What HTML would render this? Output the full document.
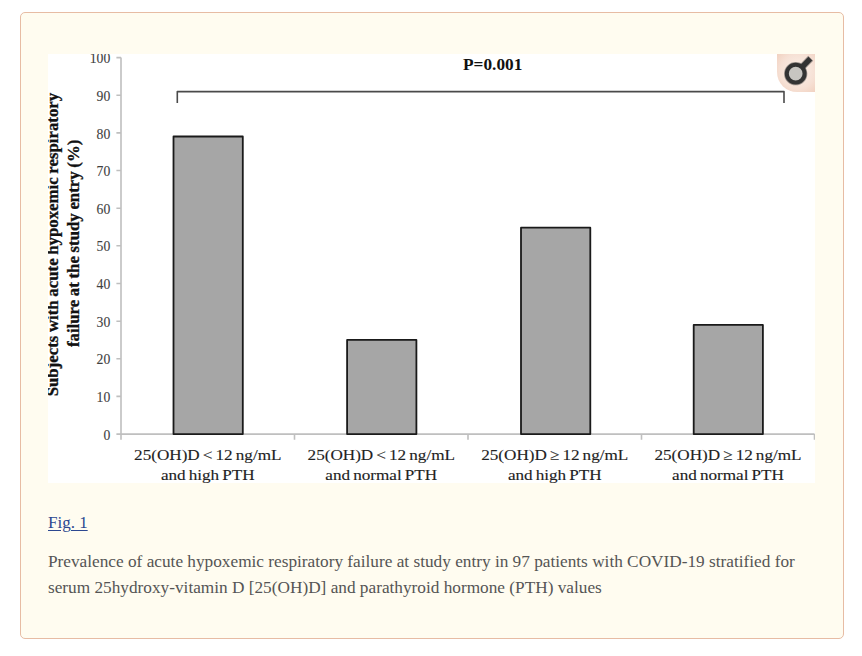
<!DOCTYPE html>
<html><head><meta charset="utf-8"><title>Fig. 1</title>
<style>
html,body{margin:0;padding:0;background:#fff;}
body{width:862px;height:656px;position:relative;overflow:hidden;font-family:"Liberation Serif",serif;}
.box{position:absolute;left:20px;top:12px;width:822px;height:625px;border:1px solid #e7bca4;border-radius:5px;background:#fffcf0;}
.chart{position:absolute;left:48px;top:54px;width:767px;height:429px;background:#fff;}
.zoom{position:absolute;left:777px;top:54px;width:38px;height:38px;border-bottom-left-radius:20px;
background:radial-gradient(circle at 55% 45%, #fbf1ea 0%, #f6e0d4 60%, #f0cdbb 100%);}
.fig{position:absolute;left:48px;top:513.2px;font-size:17px;line-height:20px;color:#2c4790;text-decoration:underline;text-underline-offset:2px;}
.cap{position:absolute;left:48px;top:549px;width:780px;font-size:17.25px;line-height:26px;color:#555;margin:0;}
</style></head><body>
<div class="box"></div>
<svg class="chart" width="767" height="429" viewBox="48 54 767 429">
<rect x="48" y="54" width="767" height="429" fill="#fff"/>
<g font-family="Liberation Serif, serif" font-size="13.7" fill="#404040" stroke="#404040" stroke-width="0.1" text-anchor="end">
<text x="110.3" y="63.2">100</text>
<text x="110.3" y="100.8">90</text>
<text x="110.3" y="138.5">80</text>
<text x="110.3" y="176.1">70</text>
<text x="110.3" y="213.8">60</text>
<text x="110.3" y="251.4">50</text>
<text x="110.3" y="289.1">40</text>
<text x="110.3" y="326.8">30</text>
<text x="110.3" y="364.4">20</text>
<text x="110.3" y="402.1">10</text>
<text x="110.3" y="439.7">0</text>
</g>
<g stroke="#bfbfbf" stroke-width="1.6" fill="none">
<path d="M121.0 57.6V434.1H814.5"/>
<path d="M116.4 57.6H121.0M116.4 95.2H121.0M116.4 132.9H121.0M116.4 170.5H121.0M116.4 208.2H121.0M116.4 245.8H121.0M116.4 283.5H121.0M116.4 321.2H121.0M116.4 358.8H121.0M116.4 396.4H121.0M116.4 434.1H121.0"/>
<path d="M121.0 434.1V439.7M294.5 434.1V439.7M468.0 434.1V439.7M641.5 434.1V439.7M814.5 434.1V439.7"/>
</g>
<g fill="#a6a6a6" stroke="#1a1a1a" stroke-width="1.8" stroke-linejoin="round">
<rect x="173.5" y="136.5" width="69.30" height="297.60"/>
<rect x="347.1" y="339.9" width="69.30" height="94.20"/>
<rect x="521.0" y="227.7" width="69.30" height="206.40"/>
<rect x="693.7" y="324.9" width="69.20" height="109.20"/>
</g>
<path d="M177.3 103V91.6H784V103" stroke="#4a4a4a" stroke-width="1.6" fill="none" stroke-linejoin="round"/>
<text x="492.7" y="69.8" font-family="Liberation Serif, serif" font-weight="bold" font-size="17.3" fill="#111" text-anchor="middle">P=0.001</text>
<g font-family="Liberation Serif, serif" font-weight="bold" font-size="16.0" fill="#111" stroke="#111" stroke-width="0.3" text-anchor="middle">
<text transform="translate(58.4 244.6) rotate(-90) scale(1.05 1)" word-spacing="-0.5">Subjects with acute hypoxemic respiratory</text>
<text transform="translate(79.0 243.4) rotate(-90) scale(1.05 1)" word-spacing="-0.5">failure at the study entry (%)</text>
</g>
<g font-family="Liberation Serif, serif" font-size="15.6" fill="#222" stroke="#222" stroke-width="0.12" text-anchor="middle">
<text transform="translate(207.75 459.9) scale(1.1 1)" word-spacing="-1.1">25(OH)D &lt; 12 ng/mL</text>
<text transform="translate(207.75 479.9) scale(1.1 1)" word-spacing="-1.1">and high PTH</text>
<text transform="translate(381.25 459.9) scale(1.1 1)" word-spacing="-1.1">25(OH)D &lt; 12 ng/mL</text>
<text transform="translate(381.25 479.9) scale(1.1 1)" word-spacing="-1.1">and normal PTH</text>
<text transform="translate(554.75 459.9) scale(1.1 1)" word-spacing="-1.1">25(OH)D ≥ 12 ng/mL</text>
<text transform="translate(554.75 479.9) scale(1.1 1)" word-spacing="-1.1">and high PTH</text>
<text transform="translate(728.00 459.9) scale(1.1 1)" word-spacing="-1.1">25(OH)D ≥ 12 ng/mL</text>
<text transform="translate(728.00 479.9) scale(1.1 1)" word-spacing="-1.1">and normal PTH</text>
</g>
</svg>
<div class="zoom"><svg width="38" height="38" viewBox="0 0 38 38">
<g stroke="#333" fill="none" stroke-opacity="0.45">
<circle cx="18.7" cy="19.7" r="8.85" stroke-width="5.6"/>
<path d="M24.6 13.6L33.7 4.2" stroke-width="7"/>
</g>
<circle cx="18.7" cy="19.7" r="8.85" fill="#c7c5c1" stroke="#333" stroke-width="4"/>
<path d="M24.6 13.6L33.3 4.6" stroke="#333" stroke-width="5.2"/>
</svg></div>
<a class="fig">Fig. 1</a>
<p class="cap">Prevalence of acute hypoxemic respiratory failure at study entry in 97 patients with COVID-19 stratified for serum 25hydroxy-vitamin D [25(OH)D] and parathyroid hormone (PTH) values</p>
</body></html>
